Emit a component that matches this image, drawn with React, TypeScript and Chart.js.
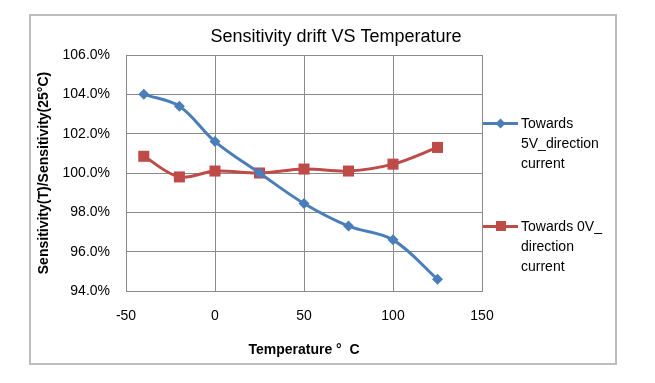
import React, { useEffect, useRef } from "react";
import { Chart, registerables } from "chart.js";

Chart.register(...registerables);

const temperatures = [-40, -20, 0, 25, 50, 75, 100, 125];
const towards5V = [104.0, 103.4, 101.6, 100.0, 98.45, 97.3, 96.6, 94.6];
const towards0V = [100.85, 99.8, 100.1, 100.0, 100.2, 100.1, 100.45, 101.3];
const seriesNames = [
  ["Towards", "5V_direction", "current"],
  ["Towards 0V_", "direction", "current"],
];
const chartTitle = "Sensitivity drift VS Temperature";
const xTitle = "Temperature °  C";
const yTitle = "Sensitivity(T)/Sensitivity(25°C)";
const xMin = -50, xMax = 150, xStep = 50;
const yMin = 94, yMax = 106, yStep = 2;

const BLUE = "#4A7EBB";
const RED = "#BE4B48";
const GRID = "#8a8a8a";
const FONT = "'Liberation Sans', Arial, sans-serif";

function LegendItem({ color, marker, lines, top }: { color: string; marker: "diamond" | "square"; lines: string[]; top: number }) {
  const mSize = marker === "diamond" ? 7 : 10;
  return (
    <div style={{ position: "absolute", left: 483, top, height: 60 }}>
      <div style={{ position: "absolute", left: 0, top: 8.5, width: 35, height: 3, background: color }} />
      <div
        style={{
          position: "absolute",
          left: 17.5 - mSize / 2,
          top: 10 - mSize / 2,
          width: mSize,
          height: mSize,
          background: color,
          transform: marker === "diamond" ? "rotate(45deg)" : "none",
        }}
      />
      <div
        style={{
          position: "absolute",
          left: 38,
          top: 0,
          font: `14px ${FONT}`,
          lineHeight: "20px",
          color: "#000",
          whiteSpace: "nowrap",
        }}
      >
        {lines.map((l, i) => (
          <div key={i}>{l}</div>
        ))}
      </div>
    </div>
  );
}

export default function App() {
  const canvasRef = useRef<HTMLCanvasElement | null>(null);

  useEffect(() => {
    const ctx = canvasRef.current!;
    const chart = new Chart(ctx, {
      type: "line",
      data: {
        datasets: [
          {
            label: seriesNames[0].join(" "),
            data: temperatures.map((t, i) => ({ x: t, y: towards5V[i] })),
            borderColor: BLUE,
            backgroundColor: BLUE,
            borderWidth: 3,
            pointStyle: "rectRot",
            pointRadius: 5.5,
            pointBorderWidth: 0,
            tension: 0.35,
          },
          {
            label: seriesNames[1].join(" "),
            data: temperatures.map((t, i) => ({ x: t, y: towards0V[i] })),
            borderColor: RED,
            backgroundColor: RED,
            borderWidth: 3,
            pointStyle: "rect",
            pointRadius: 7.8,
            pointBorderWidth: 0,
            tension: 0.35,
          },
        ],
      },
      options: {
        responsive: false,
        animation: false,
        layout: { padding: { left: 34, right: 17, top: 15, bottom: 20 } },
        plugins: {
          legend: { display: false },
          tooltip: { enabled: false },
          title: {
            display: true,
            text: chartTitle,
            color: "#000",
            font: { family: FONT, size: 18, weight: "normal" },
            padding: { top: 11.2, bottom: 7.2 },
          },
        },
        scales: {
          x: {
            type: "linear",
            min: xMin,
            max: xMax,
            ticks: {
              stepSize: xStep,
              color: "#000",
              font: { family: FONT, size: 14 },
              padding: 17,
            },
            grid: { color: GRID, drawTicks: false, lineWidth: 1 },
            border: { color: GRID, width: 1 },
            title: {
              display: true,
              text: xTitle,
              color: "#000",
              font: { family: FONT, size: 14, weight: "bold" },
              padding: { top: 0, bottom: 4.2 },
            },
            afterFit: (s: any) => {
              s.height = 72;
            },
          },
          y: {
            type: "linear",
            min: yMin,
            max: yMax,
            ticks: {
              stepSize: yStep,
              color: "#000",
              font: { family: FONT, size: 14 },
              padding: 16,
              callback: (v: any) => Number(v).toFixed(1) + "%",
            },
            grid: { color: GRID, drawTicks: false, lineWidth: 1 },
            border: { color: GRID, width: 1 },
            title: {
              display: true,
              text: yTitle,
              color: "#000",
              font: { family: FONT, size: 14, weight: "bold" },
              padding: { top: 2, bottom: 0 },
            },
            afterFit: (s: any) => {
              s.width = 92;
            },
          },
          spacer: {
            type: "linear",
            position: "right",
            display: true,
            ticks: { display: false },
            grid: { display: false, drawTicks: false },
            border: { display: false },
            afterFit: (s: any) => {
              s.width = 156;
            },
          },
        },
      },
    } as any);
    return () => chart.destroy();
  }, []);

  return (
    <div style={{ position: "absolute", left: 0, top: 0, width: 655, height: 383, background: "#fff" }}>
      <canvas ref={canvasRef} width={655} height={383} style={{ position: "absolute", left: 0, top: 0 }} />
      <div
        style={{
          position: "absolute",
          left: 29,
          top: 14,
          width: 584,
          height: 347,
          border: "2px solid #bdbdbd",
          pointerEvents: "none",
        }}
      />
      <LegendItem color={BLUE} marker="diamond" lines={seriesNames[0]} top={113} />
      <LegendItem color={RED} marker="square" lines={seriesNames[1]} top={216} />
    </div>
  );
}
